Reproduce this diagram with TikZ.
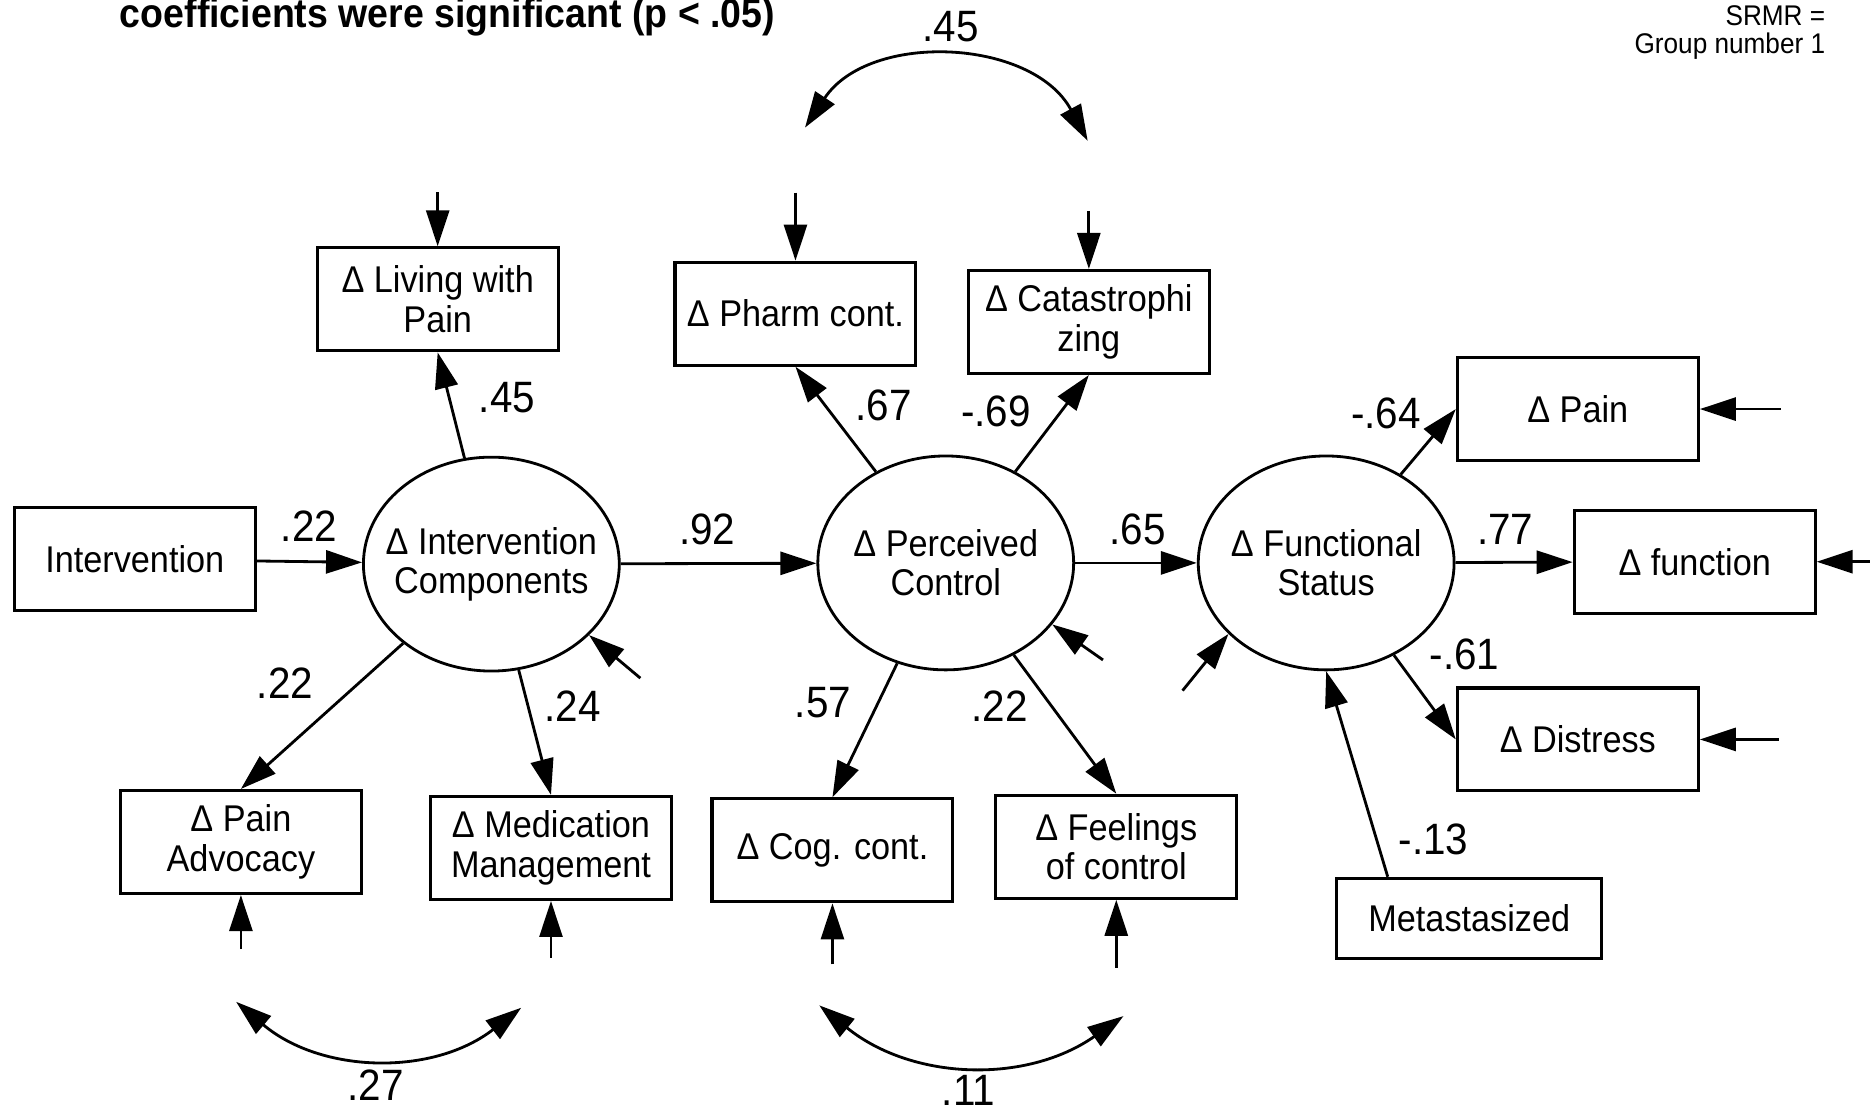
\documentclass[tikz,border=0pt]{standalone}
\usepackage{fontspec}
\setmainfont{Liberation Sans}[FakeStretch=0.92]
\usetikzlibrary{arrows.meta,shapes.geometric}

\newcommand{\boxfont}{\fontsize{10.6}{11.2}\selectfont}
\newcommand{\coeffont}{\fontsize{12.5}{13}\selectfont}

\tikzset{
  obs/.style={draw, line width=0.9pt, minimum width=2.41cm, minimum height=1.03cm, align=center, inner sep=1pt, font=\boxfont},
  lat/.style={draw, ellipse, line width=0.8pt, minimum width=2.56cm, minimum height=2.14cm, align=center, inner xsep=-4mm, inner ysep=0pt, font=\boxfont},
  coef/.style={font=\coeffont, inner sep=0pt},
  arr/.style={line width=0.8pt, -{Triangle[length=3.6mm,width=2.3mm]}},
  covarr/.style={line width=0.8pt, {Triangle[length=3.6mm,width=2.3mm]}-{Triangle[length=3.6mm,width=2.3mm]}},
}

\begin{document}
\begin{tikzpicture}[x=0.011926cm, y=-0.011926cm]
        \useasboundingbox (0,0) rectangle (1568,932);

        \node[anchor=base west, inner sep=0pt, font=\bfseries\fontsize{11.6}{12}\selectfont] (title) at (100,23) {coefficients were significant (p < .05)};
        \node[anchor=base east, inner sep=0pt, font=\fontsize{8.1}{8.5}\selectfont] (srmr) at (1531,21) {SRMR =};
        \node[anchor=base east, inner sep=0pt, font=\fontsize{8.1}{8.5}\selectfont] (grp) at (1531,45) {Group number 1};

        \node[obs] (int) at (113,469) {Intervention};
        \node[lat] (ic) at (412,473) {Δ Intervention\\Components};
        \node[lat] (pc) at (793,472) {Δ Perceived\\Control};
        \node[lat] (fs) at (1112,472) {Δ Functional\\Status};

        \node[obs] (liv) at (367,251) {Δ Living with\\Pain};
        \node[obs] (pharm) at (667,263) {Δ Pharm cont.};
        \node[obs] (cat) at (913,270) {Δ Catastrophi\\zing};
        \node[obs] (pain) at (1323,343) {Δ Pain};
        \node[obs] (fun) at (1421,471) {Δ function};
        \node[obs] (dis) at (1323,620) {Δ Distress};
        \node[obs, minimum width=2.65cm, minimum height=0.8cm] (meta) at (1232,770) {Metastasized};
        \node[obs] (padv) at (202,706) {Δ Pain\\Advocacy};
        \node[obs] (med) at (462,711) {Δ Medication\\Management};
        \node[obs] (cog) at (698,713) {Δ Cog. cont.};
        \node[obs] (feel) at (936,710) {Δ Feelings\\of control};

        \draw[arr] (int) -- (ic);
        \draw[arr] (ic) -- (pc);
        \draw[arr] (pc) -- (fs);
        \draw[arr] (fs) -- (fun);
        \draw[arr] (ic) -- (liv.south);
        \draw[arr] (ic) -- (padv.north);
        \draw[arr] (ic) -- (med.north);
        \draw[arr] (pc) -- (pharm.south);
        \draw[arr] (pc) -- (cat.south);
        \draw[arr] (pc) -- (cog.north);
        \draw[arr] (pc) -- (feel.north);
        \draw[arr] (fs) -- (pain.west);
        \draw[arr] (fs) -- (dis.west);
        \draw[arr] (meta.153) -- (fs.south);

        \draw[arr] ([yshift=0.54cm]liv.north) -- (liv.north);
        \draw[arr] ([yshift=0.68cm]pharm.north) -- (pharm.north);
        \draw[arr] ([yshift=0.58cm]cat.north) -- (cat.north);
        \draw[arr] ([xshift=0.81cm]pain.east) -- (pain.east);
        \draw[arr] ([xshift=0.6cm]fun.east) -- (fun.east);
        \draw[arr] ([xshift=0.79cm]dis.east) -- (dis.east);
        \draw[arr] ([yshift=-0.54cm]padv.south) -- (padv.south);
        \draw[arr] ([yshift=-0.57cm]med.south) -- (med.south);
        \draw[arr] ([yshift=-0.61cm]cog.south) -- (cog.south);
        \draw[arr] ([yshift=-0.68cm]feel.south) -- (feel.south);
        \draw[arr] ([shift={(-40:0.67cm)}]ic.-36) -- (ic.-36);
        \draw[arr] ([shift={(-35:0.62cm)}]pc.-30) -- (pc.-30);
        \draw[arr] ([shift={(231:0.73cm)}]fs.-144) -- (fs.-144);

        \coordinate (t1) at (675,107);
        \coordinate (t2) at (912,118);
        \coordinate (b1) at (198,840);
        \coordinate (b2) at (437,845);
        \coordinate (b3) at (687,843);
        \coordinate (b4) at (942,852);
        \draw[covarr] (t1) to[bend left=59, looseness=1.05] (t2);
        \draw[covarr] (b1) to[bend right=39] (b2);
        \draw[covarr] (b3) to[bend right=37] (b4);

        \node[coef] (k1) at (259,441) {.22};
        \node[coef] (k2) at (593,444) {.92};
        \node[coef] (k3) at (954,444) {.65};
        \node[coef] (k4) at (1262,444) {.77};
        \node[coef] (k5) at (425,333) {.45};
        \node[coef] (k6) at (741,340) {.67};
        \node[coef] (k7) at (835,345) {-.69};
        \node[coef] (k8) at (1162,347) {-.64};
        \node[coef] (k9) at (239,573) {.22};
        \node[coef] (k10) at (480,592) {.24};
        \node[coef] (k11) at (690,589) {.57};
        \node[coef] (k12) at (838,592) {.22};
        \node[coef] (k13) at (1228,549) {-.61};
        \node[coef] (k14) at (1202,704) {-.13};
        \node[coef] (k15) at (797,22) {.45};
        \node[coef] (k16) at (315,910) {.27};
        \node[coef] (k17) at (812,914) {.11};
\end{tikzpicture}
\end{document}
